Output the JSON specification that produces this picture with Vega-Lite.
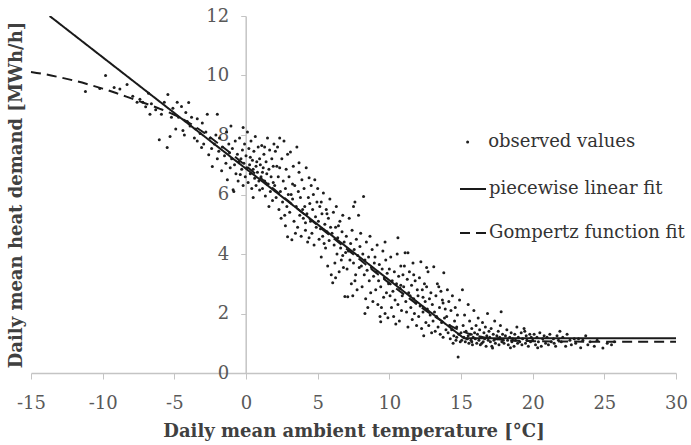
{
  "$schema": "https://vega.github.io/schema/vega-lite/v6.json",
  "width": 645,
  "height": 357,
  "autosize": {"type": "none"},
  "padding": {"left": 31, "top": 16, "right": 15, "bottom": 72},
  "background": "white",
  "config": {"view": {"stroke": null}},
  "layer": [
    {
      "data": {"values": [
        {"t":-11.2,"q":9.46},{"t":-10.2,"q":9.56},{"t":-9.8,"q":10.0},{"t":-9.2,"q":9.6},{"t":-8.8,"q":9.55},{"t":-8.3,"q":9.7},{"t":-7.9,"q":9.3},{"t":-7.6,"q":9.1},{"t":-7.4,"q":9.2},{"t":-7.2,"q":9.1},{"t":-7.0,"q":8.95},{"t":-6.8,"q":9.4},{"t":-6.7,"q":8.7},{"t":-6.6,"q":9.05},{"t":-6.3,"q":8.85},{"t":-6.05,"q":7.84},{"t":-5.9,"q":8.7},{"t":-5.7,"q":9.1},{"t":-5.5,"q":7.58},{"t":-5.45,"q":9.36},{"t":-5.3,"q":7.95},{"t":-5.2,"q":8.6},{"t":-5.1,"q":8.9},
        {"t":-4.9,"q":8.2},{"t":-4.8,"q":9.1},{"t":-4.7,"q":8.6},{"t":-4.5,"q":8.96},{"t":-4.4,"q":8.15},{"t":-4.3,"q":8.0},{"t":-4.2,"q":8.76},{"t":-4.1,"q":8.45},
        {"t":-4.0,"q":9.09},{"t":-3.9,"q":8.3},{"t":-3.8,"q":8.6},{"t":-3.6,"q":7.9},{"t":-3.5,"q":8.2},{"t":-3.4,"q":8.55},{"t":-3.4,"q":7.8},{"t":-3.2,"q":8.05},{"t":-3.1,"q":7.58},{"t":-3.05,"q":8.4},
        {"t":-2.95,"q":7.7},{"t":-2.8,"q":8.1},{"t":-2.7,"q":8.7},{"t":-2.6,"q":7.34},{"t":-2.5,"q":7.9},{"t":-2.4,"q":7.55},{"t":-2.35,"q":6.94},{"t":-2.2,"q":7.7},{"t":-2.1,"q":8.0},{"t":-2.0,"q":8.7},{"t":-2.0,"q":7.2},{"t":-1.9,"q":7.45},
        {"t":-1.85,"q":7.9},{"t":-1.7,"q":6.8},{"t":-1.65,"q":7.6},{"t":-1.5,"q":7.3},{"t":-1.4,"q":7.05},{"t":-1.35,"q":8.1},{"t":-1.3,"q":6.5},{"t":-1.2,"q":7.7},{"t":-1.15,"q":7.4},{"t":-1.1,"q":6.9},{"t":-1.05,"q":8.3},{"t":-1.0,"q":7.2},
        {"t":-0.95,"q":7.55},{"t":-0.9,"q":6.16},{"t":-0.85,"q":6.1},{"t":-0.8,"q":7.0},{"t":-0.75,"q":7.8},{"t":-0.7,"q":6.7},{"t":-0.6,"q":7.35},{"t":-0.55,"q":6.45},{"t":-0.5,"q":7.1},{"t":-0.45,"q":7.9},{"t":-0.4,"q":6.67},{"t":-0.35,"q":7.2},{"t":-0.3,"q":6.85},{"t":-0.25,"q":7.5},{"t":-0.2,"q":8.25},{"t":-0.2,"q":6.3},{"t":-0.15,"q":7.05},{"t":-0.1,"q":7.7},{"t":-0.05,"q":6.6},
        {"t":0.0,"q":7.3},{"t":0.05,"q":6.9},{"t":0.1,"q":8.1},{"t":0.15,"q":6.4},{"t":0.2,"q":7.55},{"t":0.25,"q":7.0},{"t":0.3,"q":6.7},{"t":0.35,"q":7.8},{"t":0.4,"q":6.2},{"t":0.45,"q":7.15},{"t":0.5,"q":6.85},{"t":0.55,"q":7.45},{"t":0.6,"q":6.55},{"t":0.65,"q":7.95},{"t":0.7,"q":6.3},{"t":0.75,"q":7.1},{"t":0.8,"q":6.75},{"t":0.85,"q":7.6},{"t":0.9,"q":6.45},{"t":0.95,"q":7.2},{"t":0.5,"q":5.9},{"t":0.3,"q":7.25},{"t":0.7,"q":6.95},{"t":0.95,"q":6.15},
        {"t":1.0,"q":7.0},{"t":1.05,"q":6.6},{"t":1.1,"q":7.65},{"t":1.15,"q":6.2},{"t":1.2,"q":6.9},{"t":1.25,"q":7.35},{"t":1.3,"q":6.45},{"t":1.35,"q":5.95},{"t":1.4,"q":7.1},{"t":1.45,"q":6.7},{"t":1.5,"q":7.9},{"t":1.55,"q":6.35},{"t":1.6,"q":6.85},{"t":1.65,"q":7.5},{"t":1.7,"q":6.1},{"t":1.75,"q":6.6},{"t":1.8,"q":7.2},{"t":1.85,"q":5.8},{"t":1.9,"q":6.4},{"t":1.95,"q":7.7},{"t":1.3,"q":7.6},{"t":1.6,"q":5.6},{"t":1.9,"q":6.95},{"t":1.15,"q":6.75},
        {"t":2.0,"q":6.3},{"t":2.05,"q":7.45},{"t":2.1,"q":5.9},{"t":2.2,"q":7.6},{"t":2.25,"q":6.6},{"t":2.3,"q":5.5},{"t":2.35,"q":6.9},{"t":2.4,"q":6.1},{"t":2.5,"q":7.2},{"t":2.55,"q":5.75},{"t":2.6,"q":6.45},{"t":2.65,"q":7.8},{"t":2.7,"q":5.3},{"t":2.75,"q":6.2},{"t":2.8,"q":6.85},{"t":2.85,"q":5.6},{"t":2.9,"q":4.58},{"t":2.9,"q":7.35},{"t":2.95,"q":6.0},{"t":2.15,"q":6.95},{"t":2.45,"q":5.2},{"t":2.75,"q":4.95},{"t":2.35,"q":7.9},
        {"t":3.0,"q":6.6},{"t":3.05,"q":5.4},{"t":3.1,"q":7.43},{"t":3.15,"q":6.0},{"t":3.2,"q":4.48},{"t":3.25,"q":5.85},{"t":3.3,"q":6.95},{"t":3.35,"q":5.1},{"t":3.4,"q":6.3},{"t":3.5,"q":5.6},{"t":3.55,"q":7.6},{"t":3.6,"q":4.9},{"t":3.65,"q":6.1},{"t":3.7,"q":7.07},{"t":3.75,"q":5.3},{"t":3.8,"q":5.9},{"t":3.85,"q":4.6},{"t":3.9,"q":6.5},{"t":3.95,"q":5.5},{"t":3.45,"q":4.7},{"t":3.7,"q":6.75},{"t":3.25,"q":6.35},
        {"t":4.0,"q":5.2},{"t":4.05,"q":6.2},{"t":4.1,"q":5.6},{"t":4.15,"q":4.8},{"t":4.2,"q":6.9},{"t":4.25,"q":5.35},{"t":4.3,"q":4.4},{"t":4.35,"q":5.9},{"t":4.4,"q":6.56},{"t":4.4,"q":4.55},{"t":4.5,"q":5.1},{"t":4.55,"q":6.3},{"t":4.6,"q":4.7},{"t":4.65,"q":5.5},{"t":4.7,"q":6.0},{"t":4.75,"q":4.3},{"t":4.8,"q":6.5},{"t":4.85,"q":5.25},{"t":4.9,"q":4.9},{"t":4.95,"q":5.75},{"t":4.45,"q":5.7},{"t":4.15,"q":5.05},
        {"t":5.0,"q":6.2},{"t":5.05,"q":5.1},{"t":5.1,"q":4.5},{"t":5.15,"q":5.6},{"t":5.2,"q":4.85},{"t":5.25,"q":3.9},{"t":5.3,"q":5.35},{"t":5.35,"q":4.6},{"t":5.4,"q":6.05},{"t":5.5,"q":5.0},{"t":5.55,"q":4.2},{"t":5.6,"q":5.5},{"t":5.65,"q":4.75},{"t":5.7,"q":3.6},{"t":5.75,"q":5.2},{"t":5.8,"q":4.45},{"t":5.85,"q":5.85},{"t":5.9,"q":4.9},{"t":5.95,"q":3.3},{"t":5.45,"q":4.35},{"t":5.25,"q":5.75},{"t":5.65,"q":5.35},
        {"t":6.0,"q":4.7},{"t":6.05,"q":3.03},{"t":6.1,"q":5.4},{"t":6.15,"q":4.3},{"t":6.2,"q":3.7},{"t":6.25,"q":4.9},{"t":6.3,"q":5.6},{"t":6.35,"q":4.0},{"t":6.4,"q":4.55},{"t":6.5,"q":3.4},{"t":6.55,"q":5.1},{"t":6.6,"q":4.2},{"t":6.65,"q":3.8},{"t":6.7,"q":4.75},{"t":6.75,"q":5.3},{"t":6.8,"q":3.55},{"t":6.85,"q":4.4},{"t":6.9,"q":2.57},{"t":6.95,"q":4.05},{"t":6.45,"q":4.95},{"t":6.25,"q":3.2},{"t":6.75,"q":3.95},
        {"t":7.0,"q":4.6},{"t":7.05,"q":3.5},{"t":7.1,"q":2.56},{"t":7.15,"q":4.1},{"t":7.2,"q":5.2},{"t":7.25,"q":3.8},{"t":7.3,"q":4.35},{"t":7.35,"q":3.0},{"t":7.4,"q":4.8},{"t":7.5,"q":5.6},{"t":7.5,"q":3.7},{"t":7.55,"q":4.15},{"t":7.6,"q":5.75},{"t":7.65,"q":3.3},{"t":7.7,"q":4.5},{"t":7.75,"q":2.8},{"t":7.8,"q":3.95},{"t":7.85,"q":5.3},{"t":7.9,"q":3.55},{"t":7.95,"q":4.25},{"t":7.45,"q":2.6},{"t":7.6,"q":3.1},
        {"t":8.0,"q":4.7},{"t":8.05,"q":3.6},{"t":8.1,"q":2.9},{"t":8.15,"q":4.0},{"t":8.2,"q":5.93},{"t":8.25,"q":3.3},{"t":8.3,"q":3.8},{"t":8.35,"q":2.5},{"t":8.4,"q":4.4},{"t":8.45,"q":3.45},{"t":8.5,"q":2.2},{"t":8.55,"q":3.9},{"t":8.6,"q":3.1},{"t":8.65,"q":4.6},{"t":8.7,"q":2.7},{"t":8.75,"q":3.55},{"t":8.8,"q":4.15},{"t":8.85,"q":2.4},{"t":8.9,"q":3.25},{"t":8.95,"q":3.7},{"t":8.3,"q":2.0},
        {"t":9.0,"q":3.9},{"t":9.05,"q":2.8},{"t":9.1,"q":3.4},{"t":9.15,"q":4.3},{"t":9.2,"q":2.3},{"t":9.25,"q":3.1},{"t":9.3,"q":3.65},{"t":9.35,"q":1.9},{"t":9.4,"q":1.72},{"t":9.4,"q":2.9},{"t":9.5,"q":3.5},{"t":9.55,"q":4.1},{"t":9.6,"q":2.55},{"t":9.65,"q":3.2},{"t":9.7,"q":2.0},{"t":9.75,"q":3.8},{"t":9.8,"q":2.7},{"t":9.85,"q":3.35},{"t":9.9,"q":1.86},{"t":9.95,"q":3.0},{"t":9.45,"q":2.2},{"t":9.7,"q":4.4},
        {"t":10.0,"q":3.5},{"t":10.05,"q":2.6},{"t":10.1,"q":3.9},{"t":10.15,"q":2.2},{"t":10.2,"q":3.1},{"t":10.25,"q":2.75},{"t":10.3,"q":1.9},{"t":10.35,"q":3.4},{"t":10.4,"q":2.45},{"t":10.5,"q":3.0},{"t":10.55,"q":4.0},{"t":10.6,"q":4.55},{"t":10.6,"q":2.3},{"t":10.65,"q":3.25},{"t":10.7,"q":1.75},{"t":10.75,"q":2.85},{"t":10.8,"q":3.6},{"t":10.85,"q":2.1},{"t":10.9,"q":2.6},{"t":10.95,"q":3.3},{"t":10.45,"q":1.65},{"t":10.8,"q":2.95},
        {"t":11.0,"q":2.9},{"t":11.05,"q":3.6},{"t":11.1,"q":4.04},{"t":11.15,"q":2.4},{"t":11.2,"q":2.05},{"t":11.25,"q":3.15},{"t":11.3,"q":1.55},{"t":11.3,"q":4.04},{"t":11.35,"q":2.7},{"t":11.4,"q":3.4},{"t":11.5,"q":2.2},{"t":11.55,"q":2.95},{"t":11.6,"q":1.8},{"t":11.65,"q":3.7},{"t":11.7,"q":2.5},{"t":11.75,"q":2.0},{"t":11.8,"q":3.1},{"t":11.85,"q":2.35},{"t":11.9,"q":1.6},{"t":11.95,"q":2.8},{"t":11.45,"q":2.6},{"t":11.7,"q":3.3},
        {"t":12.0,"q":2.6},{"t":12.05,"q":1.9},{"t":12.1,"q":3.2},{"t":12.15,"q":2.25},{"t":12.2,"q":3.74},{"t":12.25,"q":1.5},{"t":12.3,"q":2.8},{"t":12.35,"q":2.05},{"t":12.4,"q":1.25},{"t":12.45,"q":3.0},{"t":12.5,"q":2.4},{"t":12.55,"q":1.7},{"t":12.6,"q":2.9},{"t":12.65,"q":2.15},{"t":12.7,"q":3.4},{"t":12.75,"q":1.6},{"t":12.8,"q":2.5},{"t":12.85,"q":1.95},{"t":12.9,"q":2.7},{"t":12.95,"q":1.35},{"t":12.6,"q":3.55},{"t":12.35,"q":2.55},
        {"t":13.0,"q":2.3},{"t":13.05,"q":1.75},{"t":13.1,"q":3.57},{"t":13.15,"q":2.05},{"t":13.2,"q":1.4},{"t":13.25,"q":2.6},{"t":13.3,"q":1.9},{"t":13.35,"q":3.0},{"t":13.4,"q":1.55},{"t":13.5,"q":2.2},{"t":13.55,"q":1.3},{"t":13.6,"q":2.75},{"t":13.65,"q":1.7},{"t":13.7,"q":2.45},{"t":13.75,"q":1.2},{"t":13.8,"q":3.37},{"t":13.85,"q":1.85},{"t":13.9,"q":2.15},{"t":13.95,"q":1.45},{"t":13.45,"q":2.9},{"t":13.75,"q":2.35},
        {"t":14.0,"q":1.9},{"t":14.05,"q":2.8},{"t":14.1,"q":1.35},{"t":14.15,"q":2.4},{"t":14.2,"q":1.6},{"t":14.25,"q":1.15},{"t":14.3,"q":2.1},{"t":14.35,"q":1.45},{"t":14.4,"q":2.6},{"t":14.5,"q":1.25},{"t":14.55,"q":1.75},{"t":14.6,"q":2.2},{"t":14.65,"q":1.1},{"t":14.7,"q":1.55},{"t":14.75,"q":1.95},{"t":14.8,"q":0.54},{"t":14.85,"q":1.3},{"t":14.9,"q":2.45},{"t":14.95,"q":1.05},{"t":14.45,"q":1.0},{"t":14.7,"q":1.2},
        {"t":15.0,"q":1.35},{"t":15.05,"q":1.1},{"t":15.1,"q":2.8},{"t":15.15,"q":1.6},{"t":15.2,"q":1.2},{"t":15.25,"q":1.95},{"t":15.3,"q":1.05},{"t":15.35,"q":1.4},{"t":15.4,"q":1.15},{"t":15.5,"q":2.3},{"t":15.5,"q":1.25},{"t":15.55,"q":1.0},{"t":15.6,"q":1.75},{"t":15.65,"q":1.3},{"t":15.7,"q":1.1},{"t":15.75,"q":1.5},{"t":15.8,"q":0.95},{"t":15.85,"q":1.2},{"t":15.9,"q":2.1},{"t":15.95,"q":1.35},{"t":15.45,"q":1.15},{"t":15.75,"q":1.05},
        {"t":16.0,"q":1.15},{"t":16.05,"q":1.6},{"t":16.1,"q":1.0},{"t":16.15,"q":1.3},{"t":16.2,"q":1.85},{"t":16.25,"q":1.1},{"t":16.3,"q":1.45},{"t":16.35,"q":0.95},{"t":16.4,"q":1.2},{"t":16.5,"q":1.7},{"t":16.55,"q":1.05},{"t":16.6,"q":1.35},{"t":16.65,"q":1.15},{"t":16.7,"q":1.55},{"t":16.75,"q":0.9},{"t":16.8,"q":1.25},{"t":16.85,"q":2.0},{"t":16.9,"q":1.1},{"t":16.95,"q":1.4},{"t":16.45,"q":1.0},
        {"t":17.0,"q":1.2},{"t":17.05,"q":1.05},{"t":17.1,"q":1.5},{"t":17.15,"q":0.9},{"t":17.2,"q":0.84},{"t":17.25,"q":1.3},{"t":17.3,"q":1.1},{"t":17.35,"q":1.75},{"t":17.4,"q":1.0},{"t":17.5,"q":1.25},{"t":17.55,"q":1.15},{"t":17.6,"q":1.4},{"t":17.65,"q":0.95},{"t":17.7,"q":1.2},{"t":17.75,"q":1.6},{"t":17.8,"q":2.06},{"t":17.85,"q":1.05},{"t":17.9,"q":1.3},{"t":17.95,"q":1.1},
        {"t":18.0,"q":1.0},{"t":18.1,"q":1.25},{"t":18.2,"q":1.45},{"t":18.25,"q":1.1},{"t":18.3,"q":0.95},{"t":18.4,"q":1.2},{"t":18.5,"q":1.35},{"t":18.55,"q":1.05},{"t":18.6,"q":1.15},{"t":18.7,"q":0.9},{"t":18.75,"q":1.3},{"t":18.8,"q":1.1},{"t":18.9,"q":1.55},{"t":18.95,"q":1.0},{"t":18.45,"q":0.85},
        {"t":19.0,"q":1.2},{"t":19.1,"q":1.05},{"t":19.2,"q":1.35},{"t":19.25,"q":0.95},{"t":19.3,"q":1.15},{"t":19.4,"q":1.5},{"t":19.5,"q":1.0},{"t":19.55,"q":1.25},{"t":19.6,"q":1.1},{"t":19.7,"q":0.9},{"t":19.8,"q":1.3},{"t":19.85,"q":1.05},{"t":19.9,"q":1.2},{"t":19.45,"q":1.4},
        {"t":20.0,"q":1.1},{"t":20.1,"q":1.3},{"t":20.2,"q":0.95},{"t":20.3,"q":1.2},{"t":20.4,"q":1.05},{"t":20.5,"q":1.35},{"t":20.6,"q":0.9},{"t":20.7,"q":1.15},{"t":20.8,"q":1.25},{"t":20.9,"q":1.0},{"t":20.35,"q":0.85},
        {"t":21.0,"q":1.2},{"t":21.1,"q":0.95},{"t":21.2,"q":1.3},{"t":21.3,"q":1.05},{"t":21.45,"q":1.15},{"t":21.6,"q":0.9},{"t":21.7,"q":1.25},{"t":21.8,"q":1.1},{"t":21.9,"q":1.4},{"t":21.5,"q":1.0},
        {"t":22.0,"q":1.05},{"t":22.1,"q":1.2},{"t":22.3,"q":0.9},{"t":22.4,"q":1.3},{"t":22.6,"q":1.1},{"t":22.7,"q":0.95},{"t":22.9,"q":1.15},
        {"t":23.0,"q":1.0},{"t":23.2,"q":1.15},{"t":23.35,"q":0.85},{"t":23.5,"q":1.1},{"t":23.7,"q":1.25},{"t":23.85,"q":0.95},
        {"t":24.0,"q":1.05},{"t":24.3,"q":0.9},{"t":24.5,"q":1.1},{"t":24.9,"q":0.84},{"t":25.2,"q":1.0},{"t":25.5,"q":0.95},{"t":25.7,"q":1.05}
      ]},
      "transform": [{"calculate": "'observed values'", "as": "series"}],
      "mark": {"type": "circle", "size": 9, "opacity": 1},
      "encoding": {
        "x": {
          "field": "t", "type": "quantitative",
          "scale": {"domain": [-15, 30], "nice": false, "zero": false},
          "axis": {
            "values": [-15, -10, -5, 0, 5, 10, 15, 20, 25, 30],
            "labelExpr": "'' + datum.value",
            "grid": false, "labelFlush": false,
            "domainColor": "#c4c4c4", "tickColor": "#c4c4c4", "tickSize": 6, "domainWidth": 1.5,
            "labelFont": "DejaVu Serif", "labelFontSize": 18, "labelColor": "#595959", "labelPadding": 15,
            "title": "Daily mean ambient temperature [°C]",
            "titleFont": "DejaVu Serif", "titleFontSize": 18, "titleFontWeight": "bold", "titleColor": "#404040", "titlePadding": 10
          }
        },
        "y": {
          "field": "q", "type": "quantitative",
          "scale": {"domain": [0, 12], "nice": false},
          "axis": {
            "values": [0, 2, 4, 6, 8, 10, 12],
            "grid": false, "offset": -214.7,
            "domainColor": "#c4c4c4", "tickColor": "#c4c4c4", "tickSize": 5, "domainWidth": 1.5,
            "labelFont": "DejaVu Serif", "labelFontSize": 18, "labelColor": "#595959", "labelPadding": 12,
            "title": "Daily mean heat demand [MWh/h]",
            "titleFont": "DejaVu Serif", "titleFontSize": 18, "titleFontWeight": "bold", "titleColor": "#404040",
            "titleX": -229, "titleY": 178.5, "titleAngle": -90, "titleAlign": "center", "titleBaseline": "middle"
          }
        },
        "color": {
          "field": "series", "type": "nominal",
          "scale": {"domain": ["observed values"], "range": ["#1e1e1e"]},
          "legend": {
            "title": null, "orient": "none", "legendX": 427.6, "legendY": 117, "padding": 0,
            "symbolType": "circle", "symbolSize": 9, "labelOffset": 11.6, "labelLimit": 400,
            "labelFont": "DejaVu Serif", "labelFontSize": 18, "labelColor": "#333333"
          }
        }
      }
    },
    {
      "data": {"values": [
        {"t": -13.7, "q": 12.0, "series": "piecewise linear fit"},
        {"t": 15.2, "q": 1.17, "series": "piecewise linear fit"},
        {"t": 30, "q": 1.17, "series": "piecewise linear fit"}
      ]},
      "mark": {"type": "line", "color": "#1a1a1a", "strokeWidth": 2, "clip": true},
      "encoding": {
        "x": {"field": "t", "type": "quantitative"},
        "y": {"field": "q", "type": "quantitative"},
        "strokeDash": {
          "field": "series", "type": "nominal",
          "scale": {"domain": ["piecewise linear fit", "Gompertz function fit"], "range": [[1, 0], [10, 6]]},
          "legend": {
            "title": null, "orient": "none", "legendX": 428, "legendY": 159, "padding": 0,
            "symbolType": "stroke", "symbolSize": 676, "symbolStrokeWidth": 2, "symbolStrokeColor": "#1e1e1e",
            "labelOffset": 2, "rowPadding": 21, "labelLimit": 400,
            "labelFont": "DejaVu Serif", "labelFontSize": 18, "labelColor": "#333333"
          }
        }
      }
    },
    {
      "data": {"values": [
        {"t": -15, "q": 10.12}, {"t": -14, "q": 10.04}, {"t": -13, "q": 9.94}, {"t": -12, "q": 9.83}, {"t": -11, "q": 9.7},
        {"t": -10, "q": 9.56}, {"t": -9, "q": 9.4}, {"t": -8, "q": 9.23}, {"t": -7, "q": 9.06}, {"t": -6, "q": 8.88},
        {"t": -5, "q": 8.68}, {"t": -4, "q": 8.42}, {"t": -3, "q": 8.1}, {"t": -2, "q": 7.74}, {"t": -1, "q": 7.36},
        {"t": 0, "q": 6.96}, {"t": 1, "q": 6.56}, {"t": 2, "q": 6.16}, {"t": 3, "q": 5.76}, {"t": 4, "q": 5.36},
        {"t": 5, "q": 4.96}, {"t": 6, "q": 4.57}, {"t": 7, "q": 4.18}, {"t": 8, "q": 3.79}, {"t": 9, "q": 3.4},
        {"t": 10, "q": 3.02}, {"t": 11, "q": 2.65}, {"t": 12, "q": 2.29}, {"t": 13, "q": 1.95}, {"t": 14, "q": 1.65},
        {"t": 15, "q": 1.42}, {"t": 16, "q": 1.26}, {"t": 17, "q": 1.16}, {"t": 18, "q": 1.11}, {"t": 19, "q": 1.08},
        {"t": 20, "q": 1.07}, {"t": 22, "q": 1.06}, {"t": 25, "q": 1.05}, {"t": 30, "q": 1.05}
      ]},
      "transform": [{"calculate": "'Gompertz function fit'", "as": "series"}],
      "mark": {"type": "line", "color": "#1a1a1a", "strokeWidth": 2, "interpolate": "monotone"},
      "encoding": {
        "x": {"field": "t", "type": "quantitative"},
        "y": {"field": "q", "type": "quantitative"},
        "strokeDash": {"field": "series", "type": "nominal"}
      }
    }
  ]
}
